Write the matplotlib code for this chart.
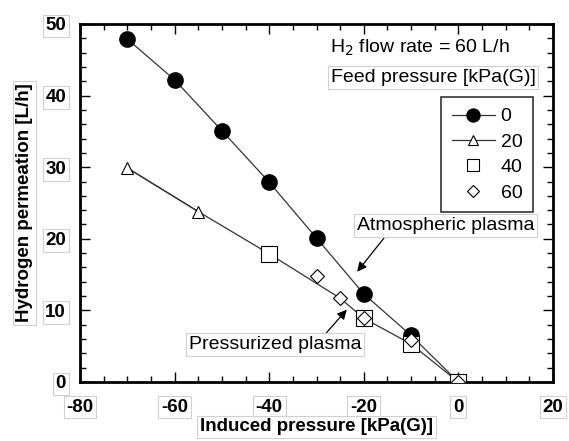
import matplotlib
matplotlib.use("Agg")
import matplotlib.pyplot as plt
from matplotlib.ticker import MultipleLocator

plt.rcParams['font.family'] = ['Liberation Sans', 'DejaVu Sans']
plt.rcParams['axes.unicode_minus'] = False

# Data
x_p0 = [-70, -60, -50, -40, -30, -20, -10, 0]
y_p0 = [47.9, 42.2, 35.1, 27.9, 20.1, 12.3, 6.5, 0]
x_p20 = [-70, -55]
y_p20 = [29.9, 23.8]
x_p40 = [-40, -20, -10, 0]
y_p40 = [17.9, 8.9, 5.3, 0]
x_p60 = [-30, -25, -20, -10, 0]
y_p60 = [14.8, 11.7, 8.9, 5.9, 0]
# pressurized-plasma trend line
x_fit = [-70, -55, -40, -25, -20, -10, 0]
y_fit = [29.9, 23.8, 17.9, 11.7, 8.9, 5.3, 0]
labels = ['0', '20', '40', '60']

fig = plt.figure(figsize=(5.69, 4.41), dpi=100)
ax = fig.add_axes([80/569, 1-382/441, 473/569, 358/441])

ax.plot(x_fit, y_fit, color='#333333', lw=0.9, zorder=2)
ax.plot(x_p0, y_p0, color='#333333', lw=0.9, marker='o', ms=11, mfc='black', mec='black',
        markevery=list(range(len(x_p0) - 1)), zorder=3, label=labels[0])
ax.plot(x_p20, y_p20, color='#333333', lw=0.9, marker='^', ms=9, mfc='white', mec='black',
        mew=0.8, zorder=3, label=labels[1])
ax.plot(x_p40, y_p40, ls='none', marker='s', ms=11, mfc='white', mec='black', mew=0.8,
        zorder=4, label=labels[2])
ax.plot(x_p60, y_p60, ls='none', marker='D', ms=7, mfc='white', mec='black', mew=0.8,
        zorder=5, label=labels[3])

ax.set_xlim(-80, 20)
ax.set_ylim(0, 50)
ax.xaxis.set_major_locator(MultipleLocator(20))
ax.xaxis.set_minor_locator(MultipleLocator(5))
ax.yaxis.set_major_locator(MultipleLocator(10))
ax.yaxis.set_minor_locator(MultipleLocator(2))
ax.tick_params(which='both', direction='in', top=True, right=True, width=1)
ax.tick_params(which='major', length=7, labelsize=13.5)
ax.tick_params(axis='x', which='major', pad=12)
ax.tick_params(axis='y', which='major', pad=10)
ax.tick_params(which='minor', length=4)
for sp in ax.spines.values():
    sp.set_linewidth(2)

box = dict(boxstyle='square,pad=0.15', fc='white', ec='#d0d0d0', lw=0.8)
for lab in ax.get_xticklabels() + ax.get_yticklabels():
    lab.set_fontweight('bold')
    lab.set_bbox(box)

ax.set_xlabel('Induced pressure [kPa(G)]', fontsize=13.5, fontweight='bold', labelpad=2,
              bbox=box)
ax.set_ylabel('Hydrogen permeation [L/h]', fontsize=13.5, fontweight='bold', labelpad=9,
              bbox=box)

ax.text(0.529, 0.933, 'H$_2$ flow rate = 60 L/h', transform=ax.transAxes, fontsize=14,
        ha='left', va='center')
ax.text(0.530, 0.850, 'Feed pressure [kPa(G)]', transform=ax.transAxes, fontsize=14,
        ha='left', va='center',
        bbox=dict(boxstyle='square,pad=0.15', fc='white', ec='#d0d0d0', lw=0.8))

leg = ax.legend(loc='upper right', bbox_to_anchor=(0.958, 0.796), borderaxespad=0,
                fontsize=14, frameon=True, fancybox=False, edgecolor='black',
                handlelength=2.2, borderpad=0.55, labelspacing=0.4, handletextpad=0.3,
                markerscale=0.85)
leg.get_frame().set_linewidth(1.2)

ax.annotate('Atmospheric plasma', xy=(-21.4, 15.4), xytext=(-21.5, 21.8), fontsize=14,
            ha='left', va='center',
            bbox=dict(boxstyle='square,pad=0.15', fc='white', ec='#d0d0d0', lw=0.8),
            arrowprops=dict(arrowstyle='-|>', color='black', lw=0.9, mutation_scale=14,
                            shrinkA=0, shrinkB=0, relpos=(0.17, 0.0)))
ax.annotate('Pressurized plasma', xy=(-23.6, 10.1), xytext=(-57.0, 5.2), fontsize=14,
            ha='left', va='center',
            bbox=dict(boxstyle='square,pad=0.15', fc='white', ec='#d0d0d0', lw=0.8),
            arrowprops=dict(arrowstyle='-|>', color='black', lw=0.9, mutation_scale=14,
                            shrinkA=0, shrinkB=0, relpos=(0.78, 1.0)))

fig.savefig('out.png', dpi=100)
